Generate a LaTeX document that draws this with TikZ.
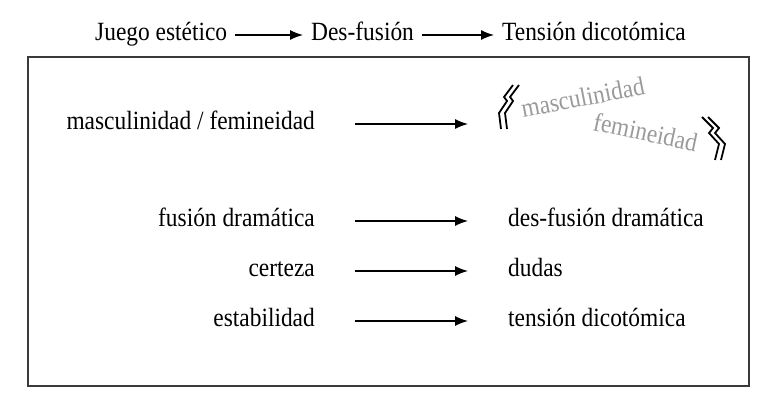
\documentclass[tikz,border=0pt]{standalone}
\usepackage{fontspec}
\setmainfont{Liberation Serif}[FakeStretch=0.89]
\usetikzlibrary{arrows.meta}
\definecolor{framecol}{HTML}{3A3A3A}
\definecolor{graytext}{HTML}{9A9A9A}
\tikzset{
  txt/.style={inner sep=0pt, font=\fontsize{26.3}{31}\selectfont},
  arr/.style={line width=1.3pt, -{Latex[length=13pt,width=10pt]}},
  zig/.style={line width=1.8pt, line join=miter},
}
\begin{document}
\begin{tikzpicture}[x=1pt,y=1pt]
\useasboundingbox (0,0) rectangle (781,403);
% header
\node[txt, anchor=base west] (j) at (95,362) {Juego estético};
\node[txt, anchor=base west] (d) at (311,362) {Des-fusión};
\node[txt, anchor=base west] (t) at (502,362) {Tensión dicotómica};
\draw[arr] ([shift={(8,6)}]j.base east) -- ([shift={(-8,6)}]d.base west);
\draw[arr] ([shift={(8,6)}]d.base east) -- ([shift={(-8,6)}]t.base west);
% frame
\draw[framecol, line width=1.3pt] (28,346) rectangle (749,17);
% row 1
\node[txt, anchor=base east] (mf) at (315,273) {masculinidad / femineidad};
\coordinate (mfend) at (468,279);
\draw[arr] ([shift={(40,6)}]mf.base east) -- (mfend);
\node[txt, anchor=base west, text=graytext, rotate=11] (mr) at (523,285) {masculinidad};
\node[txt, anchor=base west, text=graytext, rotate=-12] (fr) at (592,273) {femineidad};
\draw[zig] (513,318) -- (504,306) -- (507,302) -- (499,290) -- (501,274);
\draw[zig] (519,318) -- (510,306) -- (513,302) -- (505,290) -- (507,274);
\draw[zig] (702,286) -- (713,275) -- (709,270) -- (719,259) -- (715,243);
\draw[zig] (708,286) -- (719,275) -- (715,270) -- (725,259) -- (721,243);
% rows
\node[txt, anchor=base east] (fd) at (315,176) {fusión dramática};
\node[txt, anchor=base west] (dfd) at (508,176) {des-fusión dramática};
\node[txt, anchor=base east] (ce) at (315,126) {certeza};
\node[txt, anchor=base west] (du) at (508,126) {dudas};
\node[txt, anchor=base east] (es) at (315,76) {estabilidad};
\node[txt, anchor=base west] (td) at (508,76) {tensión dicotómica};
\draw[arr] ([shift={(40,6)}]fd.base east) -- ([shift={(-40,6)}]dfd.base west);
\draw[arr] ([shift={(40,6)}]ce.base east) -- ([shift={(-40,6)}]du.base west);
\draw[arr] ([shift={(40,6)}]es.base east) -- ([shift={(-40,6)}]td.base west);
\end{tikzpicture}
\end{document}
